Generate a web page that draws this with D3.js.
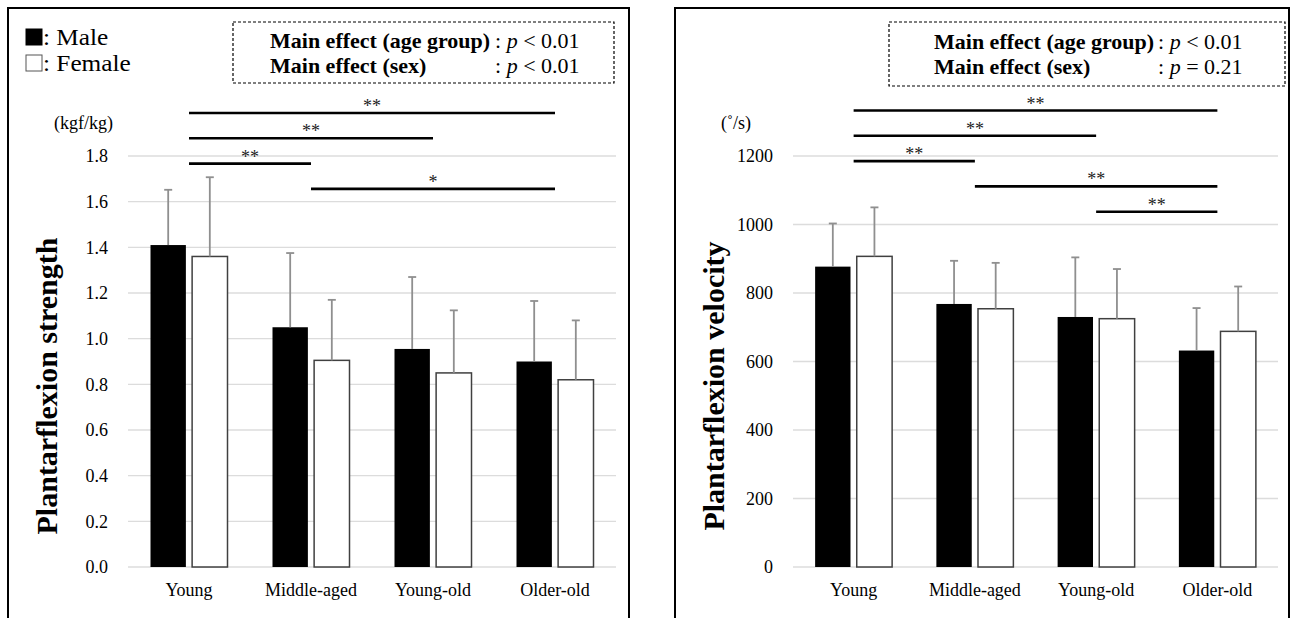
<!DOCTYPE html>
<html>
<head>
<meta charset="utf-8">
<script src="https://cdn.jsdelivr.net/npm/d3@7"></script>
<style>
  body { margin: 0; background: #fff; }
  svg { display: block; }
  text { font-family: "Liberation Serif", "Times New Roman", serif; fill: #000; }
</style>
</head>
<body>
<div id="chart"></div>
<script>
// age groups on the x axis
var categories = ["Young", "Middle-aged", "Young-old", "Older-old"];
var sexes = ["Male", "Female"];

// plantarflexion strength (kgf/kg): means and SD
var strengthMale = [1.41, 1.05, 0.955, 0.90];
var strengthFemale = [1.36, 0.905, 0.85, 0.82];
var strengthMaleSD = [0.242, 0.325, 0.315, 0.265];
var strengthFemaleSD = [0.347, 0.265, 0.274, 0.26];
var strengthTicks = [0, 0.2, 0.4, 0.6, 0.8, 1.0, 1.2, 1.4, 1.6, 1.8];
// post-hoc comparisons: [from group, to group, mark]
var strengthSig = [[0, 3, "**"], [0, 2, "**"], [0, 1, "**"], [1, 3, "*"]];
var strengthP = ["< 0.01", "< 0.01"];

// plantarflexion velocity (deg/s)
var velocityMale = [877, 768, 730, 632];
var velocityFemale = [907, 754, 725, 688];
var velocityMaleSD = [126, 126, 174, 124];
var velocityFemaleSD = [143, 134, 145, 131];
var velocityTicks = [0, 200, 400, 600, 800, 1000, 1200];
var velocitySig = [[0, 3, "**"], [0, 2, "**"], [0, 1, "**"], [1, 3, "**"], [2, 3, "**"]];
var velocityP = ["< 0.01", "= 0.21"];

var effectLabels = ["Main effect (age group)", "Main effect (sex)"];

var svg = d3.select("#chart").append("svg")
    .attr("width", 1296)
    .attr("height", 618);

function drawPanel(opt) {
    var g = svg.append("g");

    // outer frame (runs past the bottom edge of the picture)
    g.append("rect")
        .attr("x", opt.left).attr("y", 8)
        .attr("width", opt.right - opt.left).attr("height", 700)
        .attr("fill", "none").attr("stroke", "#000").attr("stroke-width", 2);

    var y = d3.scaleLinear().domain([0, opt.ticks[opt.ticks.length - 1]]).range([567, 156]);
    var x = d3.scaleBand().domain(categories).range([opt.plotLeft, opt.plotRight]);
    var x1 = d3.scaleBand().domain(sexes).range([-38.5, 38.5]).paddingInner(0.15);
    var cx = function(c) { return x(c) + x.bandwidth() / 2; };

    // gridlines + tick labels
    g.selectAll(".grid").data(opt.ticks).enter().append("line")
        .attr("x1", opt.plotLeft).attr("x2", opt.plotRight)
        .attr("y1", function(d) { return y(d); })
        .attr("y2", function(d) { return y(d); })
        .attr("stroke", "#dcdcdc").attr("stroke-width", 1.3);

    g.selectAll(".tick").data(opt.ticks).enter().append("text")
        .attr("x", opt.plotLeft - 20)
        .attr("y", function(d) { return y(d); })
        .attr("dy", "0.35em")
        .attr("text-anchor", "end")
        .style("font-size", "18px")
        .text(function(d) { return opt.format(d); });

    g.append("text")
        .attr("x", opt.left + 46).attr("y", 129)
        .style("font-size", "18px")
        .text(opt.unit);

    g.append("text")
        .attr("transform", "translate(" + (opt.left + 49) + ",386) rotate(-90)")
        .attr("text-anchor", "middle")
        .style("font-size", "30px")
        .style("font-weight", "bold")
        .text(opt.title);

    // bars
    var rows = [];
    categories.forEach(function(c, i) {
        rows.push({ cat: c, sex: "Male", v: opt.male[i], sd: opt.maleSD[i] });
        rows.push({ cat: c, sex: "Female", v: opt.female[i], sd: opt.femaleSD[i] });
    });

    g.selectAll(".bar").data(rows).enter().append("rect")
        .attr("x", function(d) { return cx(d.cat) + x1(d.sex); })
        .attr("y", function(d) { return y(d.v); })
        .attr("width", x1.bandwidth())
        .attr("height", function(d) { return y(0) - y(d.v); })
        .attr("fill", function(d) { return d.sex == "Male" ? "#000" : "#fff"; })
        .attr("stroke", function(d) { return d.sex == "Male" ? "none" : "#404040"; })
        .attr("stroke-width", 1.5);

    // error bars (upper SD only)
    var ex = function(d) { return cx(d.cat) + x1(d.sex) + x1.bandwidth() / 2; };
    g.selectAll(".err").data(rows).enter().append("line")
        .attr("x1", ex).attr("x2", ex)
        .attr("y1", function(d) { return y(d.v); })
        .attr("y2", function(d) { return y(d.v + d.sd); })
        .attr("stroke", "#8f8f8f").attr("stroke-width", 1.8);
    g.selectAll(".cap").data(rows).enter().append("line")
        .attr("x1", function(d) { return ex(d) - 4; })
        .attr("x2", function(d) { return ex(d) + 4; })
        .attr("y1", function(d) { return y(d.v + d.sd); })
        .attr("y2", function(d) { return y(d.v + d.sd); })
        .attr("stroke", "#8f8f8f").attr("stroke-width", 1.8);

    // category labels
    g.selectAll(".xlab").data(categories).enter().append("text")
        .attr("x", cx).attr("y", 596)
        .attr("text-anchor", "middle")
        .style("font-size", "18px")
        .text(function(d) { return d; });

    // significance brackets
    opt.sig.forEach(function(s, i) {
        var yy = opt.sigTop + i * 25.3;
        var a = cx(categories[s[0]]), b = cx(categories[s[1]]);
        g.append("line")
            .attr("x1", a).attr("x2", b).attr("y1", yy).attr("y2", yy)
            .attr("stroke", "#000").attr("stroke-width", 2.6);
        g.append("text")
            .attr("x", (a + b) / 2).attr("y", yy - 1)
            .attr("text-anchor", "middle")
            .style("font-size", "18px").style("fill", "#222")
            .text(s[2]);
    });

    // main effects box
    var bx = opt.box;
    g.append("rect")
        .attr("x", bx.x0).attr("y", bx.y0)
        .attr("width", bx.x1 - bx.x0).attr("height", bx.y1 - bx.y0)
        .attr("fill", "none").attr("stroke", "#000")
        .attr("stroke-width", 1.2).attr("stroke-dasharray", "3,2");
    effectLabels.forEach(function(lab, i) {
        var by = bx.base + i * 25;
        g.append("text")
            .attr("x", bx.textX).attr("y", by)
            .style("font-size", "22px").style("font-weight", "bold")
            .text(lab);
        var t = g.append("text")
            .attr("x", bx.colonX).attr("y", by)
            .style("font-size", "22px");
        t.append("tspan").text(": ");
        t.append("tspan").style("font-style", "italic").text("p");
        t.append("tspan").text(" " + opt.p[i]);
    });
}

drawPanel({
    left: 8, right: 629, plotLeft: 128, plotRight: 616,
    male: strengthMale, female: strengthFemale,
    maleSD: strengthMaleSD, femaleSD: strengthFemaleSD,
    ticks: strengthTicks, format: d3.format(".1f"),
    unit: "(kgf/kg)", title: "Plantarflexion strength",
    sig: strengthSig, sigTop: 113, p: strengthP,
    box: { x0: 233, y0: 22, x1: 614, y1: 83, textX: 270, colonX: 495, base: 48 }
});

drawPanel({
    left: 675, right: 1289, plotLeft: 793, plotRight: 1278,
    male: velocityMale, female: velocityFemale,
    maleSD: velocityMaleSD, femaleSD: velocityFemaleSD,
    ticks: velocityTicks, format: d3.format("d"),
    unit: "(\u02DA/s)", title: "Plantarflexion velocity",
    sig: velocitySig, sigTop: 110.5, p: velocityP,
    box: { x0: 889, y0: 22, x1: 1285, y1: 86, textX: 934, colonX: 1158, base: 49 }
});

// legend (left panel only)
var legend = svg.append("g");
sexes.forEach(function(s, i) {
    legend.append("rect")
        .attr("x", 26).attr("y", 29 + i * 26)
        .attr("width", 16).attr("height", 16)
        .attr("fill", s == "Male" ? "#000" : "#fff")
        .attr("stroke", s == "Male" ? "#000" : "#555")
        .attr("stroke-width", 1);
    legend.append("text")
        .attr("transform", "translate(43," + (45 + i * 26) + ") scale(1.1,1)")
        .style("font-size", "23px")
        .text(": " + s);
});
</script>
</body>
</html>
